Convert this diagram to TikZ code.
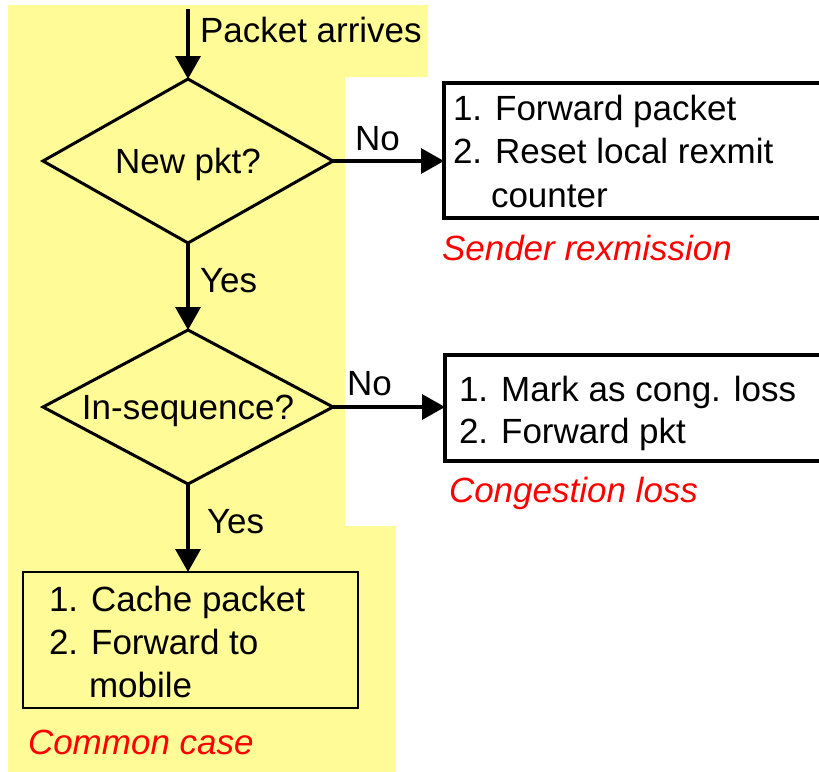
\documentclass[tikz,border=0pt]{standalone}
\usepackage{fontspec}
\setmainfont{Liberation Sans}
\usetikzlibrary{shapes.geometric,arrows.meta}
\definecolor{bgyellow}{RGB}{255,251,151}
\definecolor{lblred}{RGB}{255,0,0}
\begin{document}
\begin{tikzpicture}[x=1pt,y=-1pt,
  every node/.style={inner sep=0pt,outer sep=0pt},
  txt/.style={anchor=base west,font=\fontsize{35}{43}\selectfont},
  redlbl/.style={txt,text=lblred,font=\fontsize{35}{43}\selectfont\itshape},
  decision/.style={diamond,draw,line width=3pt,aspect=1.8,minimum width=290pt,minimum height=164pt,
    text height=25pt,text depth=0pt,font=\fontsize{35}{43}\selectfont},
  thickbox/.style={draw,line width=4pt,fill=white},
  thinbox/.style={draw,line width=2pt},
  flow/.style={line width=3.3pt,-{Triangle[length=23pt,width=25pt]}}]
\useasboundingbox (0,0) rectangle (819,771);
% yellow background
\fill[bgyellow] (8,5) -- (428,5) -- (428,77) -- (345,77) -- (345,526) -- (396,526) -- (396,772) -- (8,772) -- cycle;
% decisions
\node[decision] (d1) at (188,161) {New pkt?};
\node[decision,aspect=1.88,minimum height=154pt] (d2) at (188,407) {In-sequence?};
% boxes
\node[thickbox,minimum width=378pt,minimum height=135pt] (b1) at (633,150.5) {};
\node[thickbox,minimum width=378pt,minimum height=106pt] (b2) at (634,408) {};
\node[thinbox,minimum width=335pt,minimum height=136pt] (b3) at (190.5,640) {};
% box texts
\node[txt] (b1l1) at (453,120) {1. Forward packet};
\node[txt] (b1l2) at (453,163) {2. Reset local rexmit};
\node[txt] (b1l3) at (491,207) {counter};
\node[txt] (b2l1) at (459,401) {1. Mark as cong. loss};
\node[txt] (b2l2) at (459,443) {2. Forward pkt};
\node[txt] (b3l1) at (49,611) {1. Cache packet};
\node[txt] (b3l2) at (49,654) {2. Forward to};
\node[txt] (b3l3) at (89,697) {mobile};
% red captions
\node[redlbl] (c1) at (442,260) {Sender rexmission};
\node[redlbl] (c2) at (449,502) {Congestion loss};
\node[redlbl] (c3) at (28,754) {Common case};
% connectors
\coordinate (start) at (188,9);
\draw[flow] (start) -- (d1.north);
\draw[flow] (d1.east) -- (d1.east -| b1.west);
\draw[flow] (d1.south) -- (d2.north);
\draw[flow] (d2.east) -- (d2.east -| b2.west);
\draw[flow] (d2.south) -- (d2.south |- b3.north);
% connector labels
\node[txt] (lpa) at (200,42) {Packet arrives};
\node[txt] (lno1) at (355,150) {No};
\node[txt] (lyes1) at (200,292) {Yes};
\node[txt] (lno2) at (347,395) {No};
\node[txt] (lyes2) at (207,533) {Yes};
\end{tikzpicture}
\end{document}
